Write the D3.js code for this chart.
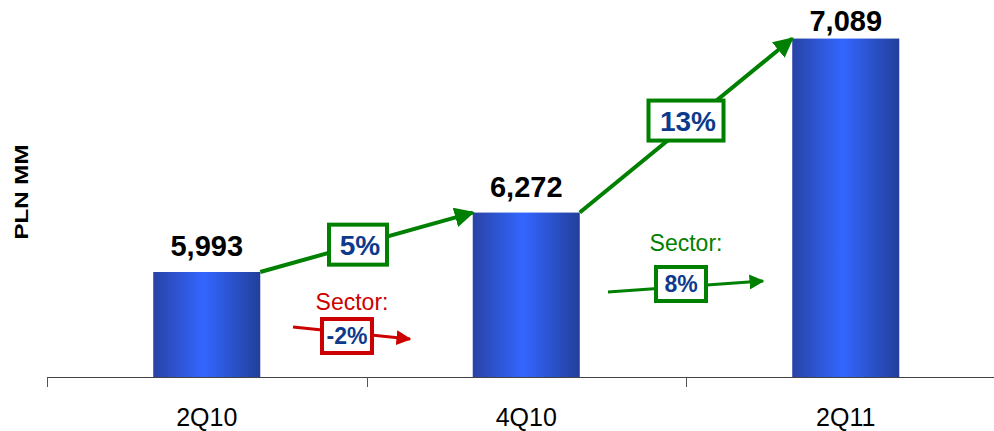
<!DOCTYPE html>
<html>
<head>
<meta charset="utf-8">
<script src="https://cdn.jsdelivr.net/npm/d3@7"></script>
<style>
  body { margin: 0; background: #fff; }
  text { font-family: "Liberation Sans", Arial, sans-serif; }
</style>
</head>
<body>
<script>
const categories = ["2Q10", "4Q10", "2Q11"];
const values = [5993, 6272, 7089];
const growthLabels = ["5%", "13%"];
const sectorLabels = ["-2%", "8%"];
const sectorColors = ["#cc0000", "#008000"];

const width = 994,
      height = 431,
      left = 47,
      baseY = 377;

const svg = d3.select("body")
    .append("svg")
    .attr("width", width)
    .attr("height", height);

const defs = svg.append("defs");
const grad = defs.append("linearGradient")
    .attr("id", "barGrad")
    .attr("x1", "0%").attr("x2", "100%").attr("y1", "0%").attr("y2", "0%");
grad.append("stop").attr("offset", "0%").attr("stop-color", "#2843a6");
grad.append("stop").attr("offset", "47%").attr("stop-color", "#3366ff");
grad.append("stop").attr("offset", "100%").attr("stop-color", "#223f9a");

function marker(id, color) {
    defs.append("marker")
        .attr("id", id)
        .attr("viewBox", "0 0 10 10")
        .attr("refX", 9).attr("refY", 5)
        .attr("markerWidth", 5).attr("markerHeight", 5)
        .attr("markerUnits", "strokeWidth")
        .attr("orient", "auto")
        .append("path")
        .attr("d", "M0,0 L10,5 L0,10 Z")
        .attr("fill", color);
}
marker("arrGreen", "#008000");
marker("arrRed", "#cc0000");

const x = d3.scaleBand()
    .domain(categories)
    .range([left, left + 3 * 319.5])
    .paddingInner(0.665)
    .paddingOuter(0.3325);

const y = d3.scaleLinear()
    .domain([5500, 7270])
    .range([baseY, 0]);

// x axis, ticks sit between categories
const tickX = categories.map(function (d, i) { return left + i * 319.5; });
svg.append("line")
    .attr("x1", left).attr("x2", width)
    .attr("y1", baseY + 0.5).attr("y2", baseY + 0.5)
    .attr("stroke", "#444").attr("stroke-width", 1.2);
svg.selectAll(".tick")
    .data(tickX)
    .enter()
    .append("line")
    .attr("x1", function (d) { return Math.round(d) + 0.5; })
    .attr("x2", function (d) { return Math.round(d) + 0.5; })
    .attr("y1", baseY).attr("y2", baseY + 10)
    .attr("stroke", "#555");

svg.selectAll(".cat")
    .data(categories)
    .enter()
    .append("text")
    .attr("x", function (d) { return x(d) + x.bandwidth() / 2; })
    .attr("y", 426)
    .attr("text-anchor", "middle")
    .attr("font-size", 25)
    .attr("fill", "#000")
    .text(function (d) { return d; });

svg.append("text")
    .attr("transform", "translate(28,192)rotate(-90)")
    .attr("text-anchor", "middle")
    .attr("font-size", 18)
    .attr("font-weight", "bold")
    .attr("textLength", 95)
    .attr("lengthAdjust", "spacingAndGlyphs")
    .text("PLN MM");

// bars
svg.selectAll(".bar")
    .data(values)
    .enter()
    .append("rect")
    .attr("x", function (d, i) { return x(categories[i]); })
    .attr("y", function (d) { return y(d); })
    .attr("width", x.bandwidth())
    .attr("height", function (d) { return baseY - y(d); })
    .attr("fill", "url(#barGrad)");

svg.selectAll(".val")
    .data(values)
    .enter()
    .append("text")
    .attr("x", function (d, i) { return x(categories[i]) + x.bandwidth() / 2; })
    .attr("y", function (d) { return Math.max(y(d) - 16, 31); })
    .attr("text-anchor", "middle")
    .attr("font-size", 29)
    .attr("font-weight", "bold")
    .text(function (d) { return d3.format(",")(d); });

// growth arrows between bar tops
const boxSpec = [{t: 0.46, dy: 0, w: 58}, {t: 0.5, dy: -5, w: 75}];
growthLabels.forEach(function (lab, i) {
    const x1 = x(categories[i]) + x.bandwidth(),
          y1 = y(values[i]),
          x2 = x(categories[i + 1]),
          y2 = y(values[i + 1]);
    svg.append("line")
        .attr("x1", x1).attr("y1", y1)
        .attr("x2", x2).attr("y2", y2)
        .attr("stroke", "#008000")
        .attr("stroke-width", 4)
        .attr("marker-end", "url(#arrGreen)");
    const b = boxSpec[i];
    const cx = x1 + (x2 - x1) * b.t,
          cy = y1 + (y2 - y1) * b.t + b.dy;
    svg.append("rect")
        .attr("x", cx - b.w / 2).attr("y", cy - 20)
        .attr("width", b.w).attr("height", 40)
        .attr("fill", "#fff")
        .attr("stroke", "#008000")
        .attr("stroke-width", 4);
    svg.append("text")
        .attr("x", cx + 2).attr("y", cy + 10)
        .attr("text-anchor", "middle")
        .attr("font-size", 28)
        .attr("font-weight", "bold")
        .attr("fill", "#0d3a8c")
        .text(lab);
});

// sector annotations
const sectorPos = [
    {cx: 347, ty: 310, tx: 352, x1: 293, y1: 327, x2: 410, y2: 339, by: 336},
    {cx: 681, ty: 251, tx: 686, x1: 608, y1: 292, x2: 763, y2: 281, by: 284}
];
sectorLabels.forEach(function (lab, i) {
    const p = sectorPos[i], col = sectorColors[i];
    svg.append("text")
        .attr("x", p.tx).attr("y", p.ty)
        .attr("text-anchor", "middle")
        .attr("font-size", 23)
        .attr("fill", col)
        .text("Sector:");
    svg.append("line")
        .attr("x1", p.x1).attr("y1", p.y1)
        .attr("x2", p.x2).attr("y2", p.y2)
        .attr("stroke", col)
        .attr("stroke-width", 3)
        .attr("marker-end", i === 0 ? "url(#arrRed)" : "url(#arrGreen)");
    svg.append("rect")
        .attr("x", p.cx - 25).attr("y", p.by - 17)
        .attr("width", 50).attr("height", 34)
        .attr("fill", "#fff")
        .attr("stroke", col)
        .attr("stroke-width", 4);
    svg.append("text")
        .attr("x", p.cx).attr("y", p.by + 8)
        .attr("text-anchor", "middle")
        .attr("font-size", 23)
        .attr("font-weight", "bold")
        .attr("fill", "#0d3a8c")
        .text(lab);
});
</script>
</body>
</html>
